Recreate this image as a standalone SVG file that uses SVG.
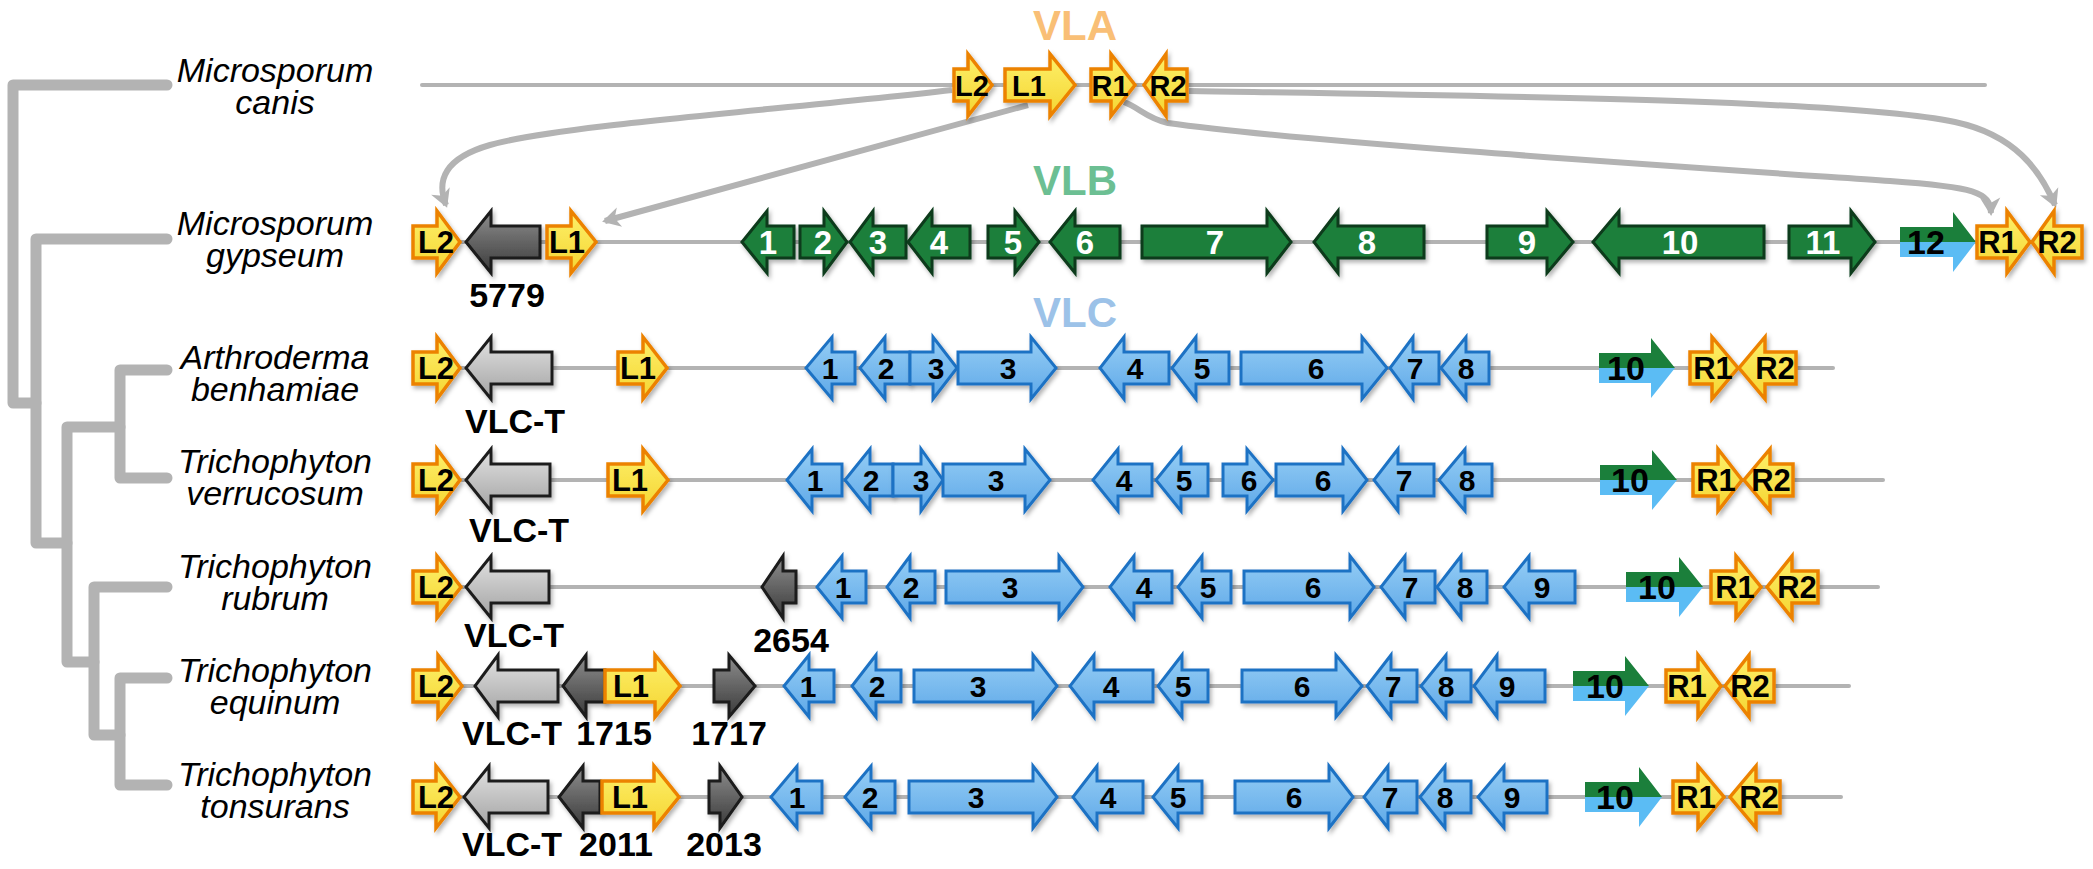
<svg xmlns="http://www.w3.org/2000/svg" width="2093" height="869" viewBox="0 0 2093 869">
<defs>
<style>
.bb{stroke:#b3b3b3;stroke-width:4;fill:none;stroke-linecap:round}
.tree{stroke:#b3b3b3;stroke-width:11;fill:none;stroke-linecap:round;stroke-linejoin:round}
.cn{stroke:#b3b3b3;stroke-width:6;fill:none;marker-end:url(#ah)}
.sp{font-family:"Liberation Sans",Arial,sans-serif;font-style:italic;font-size:34px;text-anchor:middle;fill:#000}
.y{fill:url(#gy);stroke:#ec8200;stroke-width:3.5;filter:url(#sh)}
.b{fill:url(#gb);stroke:#1f72c4;stroke-width:3;filter:url(#sh)}
.g{fill:#1b7f3b;stroke:#0c3a1a;stroke-width:3;filter:url(#sh)}
.lg{fill:url(#glg);stroke:#1e1e1e;stroke-width:3;filter:url(#sh)}
.dg{fill:url(#gdg);stroke:#1a1a1a;stroke-width:3;filter:url(#sh)}
.tg{fill:#1b7f3b}
.tb{fill:#5bbcf4}
.lb{font-family:"Liberation Sans",Arial,sans-serif;font-weight:bold;font-size:30px;text-anchor:middle;fill:#000}
.w{fill:#fff;font-size:33px}
.yl{font-size:31px}
.yc{font-size:29px}
.nm{font-size:34px}
.big{font-family:"Liberation Sans",Arial,sans-serif;font-weight:bold;font-size:42px;text-anchor:middle}
</style>
<linearGradient id="gy" x1="0" y1="0" x2="0" y2="1"><stop offset="0" stop-color="#fdf06a"/><stop offset="1" stop-color="#f5d532"/></linearGradient>
<linearGradient id="gb" x1="0" y1="0" x2="0" y2="1"><stop offset="0" stop-color="#96cef5"/><stop offset="1" stop-color="#5ea8e8"/></linearGradient>
<linearGradient id="glg" x1="0" y1="0" x2="0" y2="1"><stop offset="0" stop-color="#e2e2e2"/><stop offset="1" stop-color="#a3a3a3"/></linearGradient>
<linearGradient id="gdg" x1="0" y1="0" x2="0" y2="1"><stop offset="0" stop-color="#8e8e8e"/><stop offset="1" stop-color="#3a3a3a"/></linearGradient>
<filter id="sh" x="-20%" y="-20%" width="150%" height="160%"><feDropShadow dx="2" dy="3" stdDeviation="2" flood-color="#000" flood-opacity="0.3"/></filter>
<marker id="ah" markerUnits="userSpaceOnUse" markerWidth="26" markerHeight="26" viewBox="-20 -13 26 26" refX="0" refY="0" orient="auto"><path d="M3,0 L-15,-10 L-10,0 L-15,10 Z" fill="#b3b3b3"/></marker>
</defs>
<rect width="2093" height="869" fill="#fff"/>

<g id="tree">
<path class="tree" d="M167,85 H13 V403 H36"/>
<path class="tree" d="M167,239 H36 V543 H67"/>
<path class="tree" d="M120,427 H67 V662 H94"/>
<path class="tree" d="M167,370 H120 V478 H167"/>
<path class="tree" d="M167,587 H94 V735 H120"/>
<path class="tree" d="M167,678 H120 V785 H167"/>
</g>

<g id="species">
<g id="sp-canis"><text class="sp" x="275" y="82">Microsporum</text><text class="sp" x="275" y="114">canis</text></g>
<g id="sp-gypseum"><text class="sp" x="275" y="235">Microsporum</text><text class="sp" x="275" y="267">gypseum</text></g>
<g id="sp-benhamiae"><text class="sp" x="275" y="369">Arthroderma</text><text class="sp" x="275" y="401">benhamiae</text></g>
<g id="sp-verrucosum"><text class="sp" x="275" y="473">Trichophyton</text><text class="sp" x="275" y="505">verrucosum</text></g>
<g id="sp-rubrum"><text class="sp" x="275" y="578">Trichophyton</text><text class="sp" x="275" y="610">rubrum</text></g>
<g id="sp-equinum"><text class="sp" x="275" y="682">Trichophyton</text><text class="sp" x="275" y="714">equinum</text></g>
<g id="sp-tonsurans"><text class="sp" x="275" y="786">Trichophyton</text><text class="sp" x="275" y="818">tonsurans</text></g>
</g>

<g id="backbones">
<line class="bb" x1="422" y1="85" x2="1985" y2="85"/>
<line class="bb" x1="420" y1="242" x2="2060" y2="242"/>
<line class="bb" x1="420" y1="368" x2="1833" y2="368"/>
<line class="bb" x1="420" y1="480" x2="1883" y2="480"/>
<line class="bb" x1="420" y1="587" x2="1878" y2="587"/>
<line class="bb" x1="420" y1="686" x2="1849" y2="686"/>
<line class="bb" x1="420" y1="797" x2="1841" y2="797"/>
</g>

<g id="titles">
<text class="big" x="1075" y="40" fill="#f9bf76">VLA</text>
<text class="big" x="1075" y="195" fill="#6cbf93">VLB</text>
<text class="big" x="1075" y="327" fill="#9cc2e8">VLC</text>
</g>

<g id="connectors">
<path class="cn" d="M952,90 C780,110 560,125 490,145 C445,158 436,180 446,205"/>
<path class="cn" d="M1028,105 L605,221"/>
<path class="cn" d="M1124,102 C1140,108 1146,118 1168,123 C1300,142 1700,168 1890,181 C1975,187 1990,192 1991,213"/>
<path class="cn" d="M1189,91 C1500,96 1850,100 1955,122 C2015,135 2040,170 2055,205"/>
</g>

<g id="row-canis">
<g id="canis-L2"><path class="y" d="M954,69H968V54L992,85L968,116V101H954Z"/><text class="lb yc" x="972" y="96">L2</text></g>
<g id="canis-L1"><path class="y" d="M1005,69H1050V54L1075,85L1050,116V101H1005Z"/><text class="lb yc" x="1029" y="96">L1</text></g>
<g id="canis-R1"><path class="y" d="M1091,69H1111V54L1135,85L1111,116V101H1091Z"/><text class="lb yc" x="1110" y="96">R1</text></g>
<g id="canis-R2"><path class="y" d="M1187,69H1166V54L1144,85L1166,116V101H1187Z"/><text class="lb yc" x="1168" y="96">R2</text></g>
</g>

<g id="row-gypseum">
<g id="gyp-L2"><path class="y" d="M413,226H437V211L460,242L437,273V258H413Z"/><text class="lb yl" x="436" y="253">L2</text></g>
<g id="gyp-5779"><path class="dg" d="M540,226H491V211L466,242L491,273V258H540Z"/><text class="lb nm" x="507" y="307">5779</text></g>
<g id="gyp-L1"><path class="y" d="M547,226H571V211L596,242L571,273V258H547Z"/><text class="lb yl" x="567" y="253">L1</text></g>
<g id="gyp-1"><path class="g" d="M794,226H767V211L742,242L767,273V258H794Z"/><text class="lb w" x="768" y="254">1</text></g>
<g id="gyp-2"><path class="g" d="M800,226H824V211L847,242L824,273V258H800Z"/><text class="lb w" x="823" y="254">2</text></g>
<g id="gyp-3"><path class="g" d="M906,226H873V211L850,242L873,273V258H906Z"/><text class="lb w" x="878" y="254">3</text></g>
<g id="gyp-4"><path class="g" d="M970,226H932V211L908,242L932,273V258H970Z"/><text class="lb w" x="939" y="254">4</text></g>
<g id="gyp-5"><path class="g" d="M988,226H1015V211L1039,242L1015,273V258H988Z"/><text class="lb w" x="1013" y="254">5</text></g>
<g id="gyp-6"><path class="g" d="M1120,226H1075V211L1050,242L1075,273V258H1120Z"/><text class="lb w" x="1085" y="254">6</text></g>
<g id="gyp-7"><path class="g" d="M1142,226H1267V211L1291,242L1267,273V258H1142Z"/><text class="lb w" x="1215" y="254">7</text></g>
<g id="gyp-8"><path class="g" d="M1424,226H1338V211L1314,242L1338,273V258H1424Z"/><text class="lb w" x="1367" y="254">8</text></g>
<g id="gyp-9"><path class="g" d="M1487,226H1547V211L1573,242L1547,273V258H1487Z"/><text class="lb w" x="1527" y="254">9</text></g>
<g id="gyp-10"><path class="g" d="M1764,226H1619V211L1593,242L1619,273V258H1764Z"/><text class="lb w" x="1680" y="254">10</text></g>
<g id="gyp-11"><path class="g" d="M1789,226H1851V211L1875,242L1851,273V258H1789Z"/><text class="lb w" x="1823" y="254">11</text></g>
<g id="gyp-12"><path class="tg" d="M1900,227H1953V212L1976,242H1900Z"/><path class="tb" d="M1900,242H1976L1953,272V257H1900Z"/><text class="lb nm" x="1926" y="254">12</text></g>
<g id="gyp-R1"><path class="y" d="M1977,226H2007V211L2030,242L2007,273V258H1977Z"/><text class="lb yl" x="1998" y="253">R1</text></g>
<g id="gyp-R2"><path class="y" d="M2082,226H2054V211L2032,242L2054,273V258H2082Z"/><text class="lb yl" x="2057" y="253">R2</text></g>
</g>

<g id="row-benhamiae">
<g id="ben-L2"><path class="y" d="M413,352H437V337L460,368L437,399V384H413Z"/><text class="lb yl" x="436" y="379">L2</text></g>
<g id="ben-VLCT"><path class="lg" d="M552,352H491V337L466,368L491,399V384H552Z"/><text class="lb nm" x="515" y="433">VLC-T</text></g>
<g id="ben-L1"><path class="y" d="M618,352H643V337L667,368L643,399V384H618Z"/><text class="lb yl" x="638" y="379">L1</text></g>
<g id="ben-1"><path class="b" d="M855,352H832V337L806,368L832,399V384H855Z"/><text class="lb" x="830" y="379">1</text></g>
<g id="ben-2"><path class="b" d="M910,352H885V337L860,368L885,399V384H910Z"/><text class="lb" x="886" y="379">2</text></g>
<g id="ben-3a"><path class="b" d="M910,352H933V337L957,368L933,399V384H910Z"/><text class="lb" x="936" y="379">3</text></g>
<g id="ben-3b"><path class="b" d="M958,352H1031V337L1056,368L1031,399V384H958Z"/><text class="lb" x="1008" y="379">3</text></g>
<g id="ben-4"><path class="b" d="M1169,352H1124V337L1100,368L1124,399V384H1169Z"/><text class="lb" x="1135" y="379">4</text></g>
<g id="ben-5"><path class="b" d="M1229,352H1196V337L1172,368L1196,399V384H1229Z"/><text class="lb" x="1202" y="379">5</text></g>
<g id="ben-6"><path class="b" d="M1241,352H1362V337L1387,368L1362,399V384H1241Z"/><text class="lb" x="1316" y="379">6</text></g>
<g id="ben-7"><path class="b" d="M1439,352H1413V337L1390,368L1413,399V384H1439Z"/><text class="lb" x="1415" y="379">7</text></g>
<g id="ben-8"><path class="b" d="M1489,352H1466V337L1441,368L1466,399V384H1489Z"/><text class="lb" x="1466" y="379">8</text></g>
<g id="ben-10"><path class="tg" d="M1599,353H1651V338L1675,368H1599Z"/><path class="tb" d="M1599,368H1675L1651,398V383H1599Z"/><text class="lb nm" x="1626" y="380">10</text></g>
<g id="ben-R1"><path class="y" d="M1690,352H1712V337L1738,368L1712,399V384H1690Z"/><text class="lb yl" x="1713" y="379">R1</text></g>
<g id="ben-R2"><path class="y" d="M1796,352H1765V337L1739,368L1765,399V384H1796Z"/><text class="lb yl" x="1775" y="379">R2</text></g>
</g>

<g id="row-verrucosum">
<g id="ver-L2"><path class="y" d="M413,464H437V449L460,480L437,511V496H413Z"/><text class="lb yl" x="436" y="491">L2</text></g>
<g id="ver-VLCT"><path class="lg" d="M550,464H491V449L466,480L491,511V496H550Z"/><text class="lb nm" x="519" y="542">VLC-T</text></g>
<g id="ver-L1"><path class="y" d="M608,464H643V449L668,480L643,511V496H608Z"/><text class="lb yl" x="630" y="491">L1</text></g>
<g id="ver-1"><path class="b" d="M842,464H812V449L787,480L812,511V496H842Z"/><text class="lb" x="815" y="491">1</text></g>
<g id="ver-2"><path class="b" d="M893,464H870V449L845,480L870,511V496H893Z"/><text class="lb" x="871" y="491">2</text></g>
<g id="ver-3a"><path class="b" d="M893,464H921V449L943,480L921,511V496H893Z"/><text class="lb" x="921" y="491">3</text></g>
<g id="ver-3b"><path class="b" d="M943,464H1025V449L1050,480L1025,511V496H943Z"/><text class="lb" x="996" y="491">3</text></g>
<g id="ver-4"><path class="b" d="M1152,464H1118V449L1093,480L1118,511V496H1152Z"/><text class="lb" x="1124" y="491">4</text></g>
<g id="ver-5"><path class="b" d="M1208,464H1181V449L1156,480L1181,511V496H1208Z"/><text class="lb" x="1184" y="491">5</text></g>
<g id="ver-6a"><path class="b" d="M1223,464H1247V449L1273,480L1247,511V496H1223Z"/><text class="lb" x="1249" y="491">6</text></g>
<g id="ver-6b"><path class="b" d="M1276,464H1343V449L1367,480L1343,511V496H1276Z"/><text class="lb" x="1323" y="491">6</text></g>
<g id="ver-7"><path class="b" d="M1434,464H1398V449L1374,480L1398,511V496H1434Z"/><text class="lb" x="1404" y="491">7</text></g>
<g id="ver-8"><path class="b" d="M1492,464H1465V449L1439,480L1465,511V496H1492Z"/><text class="lb" x="1467" y="491">8</text></g>
<g id="ver-10"><path class="tg" d="M1600,465H1652V450L1677,480H1600Z"/><path class="tb" d="M1600,480H1677L1652,510V495H1600Z"/><text class="lb nm" x="1630" y="492">10</text></g>
<g id="ver-R1"><path class="y" d="M1693,464H1718V449L1742,480L1718,511V496H1693Z"/><text class="lb yl" x="1716" y="491">R1</text></g>
<g id="ver-R2"><path class="y" d="M1793,464H1770V449L1744,480L1770,511V496H1793Z"/><text class="lb yl" x="1771" y="491">R2</text></g>
</g>

<g id="row-rubrum">
<g id="rub-L2"><path class="y" d="M413,571H437V556L461,587L437,618V603H413Z"/><text class="lb yl" x="436" y="598">L2</text></g>
<g id="rub-VLCT"><path class="lg" d="M549,571H491V556L466,587L491,618V603H549Z"/><text class="lb nm" x="514" y="647">VLC-T</text></g>
<g id="rub-2654"><path class="dg" d="M796,571H783V556L762,587L783,618V603H796Z"/><text class="lb nm" x="791" y="652">2654</text></g>
<g id="rub-1"><path class="b" d="M866,571H842V556L817,587L842,618V603H866Z"/><text class="lb" x="843" y="598">1</text></g>
<g id="rub-2"><path class="b" d="M935,571H910V556L887,587L910,618V603H935Z"/><text class="lb" x="911" y="598">2</text></g>
<g id="rub-3"><path class="b" d="M946,571H1059V556L1083,587L1059,618V603H946Z"/><text class="lb" x="1010" y="598">3</text></g>
<g id="rub-4"><path class="b" d="M1172,571H1134V556L1110,587L1134,618V603H1172Z"/><text class="lb" x="1144" y="598">4</text></g>
<g id="rub-5"><path class="b" d="M1231,571H1202V556L1178,587L1202,618V603H1231Z"/><text class="lb" x="1208" y="598">5</text></g>
<g id="rub-6"><path class="b" d="M1244,571H1350V556L1374,587L1350,618V603H1244Z"/><text class="lb" x="1313" y="598">6</text></g>
<g id="rub-7"><path class="b" d="M1435,571H1405V556L1381,587L1405,618V603H1435Z"/><text class="lb" x="1410" y="598">7</text></g>
<g id="rub-8"><path class="b" d="M1487,571H1461V556L1437,587L1461,618V603H1487Z"/><text class="lb" x="1465" y="598">8</text></g>
<g id="rub-9"><path class="b" d="M1575,571H1529V556L1504,587L1529,618V603H1575Z"/><text class="lb" x="1542" y="598">9</text></g>
<g id="rub-10"><path class="tg" d="M1626,572H1679V557L1703,587H1626Z"/><path class="tb" d="M1626,587H1703L1679,617V602H1626Z"/><text class="lb nm" x="1657" y="599">10</text></g>
<g id="rub-R1"><path class="y" d="M1711,571H1736V556L1761,587L1736,618V603H1711Z"/><text class="lb yl" x="1735" y="598">R1</text></g>
<g id="rub-R2"><path class="y" d="M1818,571H1792V556L1767,587L1792,618V603H1818Z"/><text class="lb yl" x="1797" y="598">R2</text></g>
</g>

<g id="row-equinum">
<g id="equ-L2"><path class="y" d="M413,670H438V655L462,686L438,717V702H413Z"/><text class="lb yl" x="436" y="697">L2</text></g>
<g id="equ-VLCT"><path class="lg" d="M558,670H498V655L475,686L498,717V702H558Z"/><text class="lb nm" x="512" y="745">VLC-T</text></g>
<g id="equ-1715"><path class="dg" d="M605,670H586V655L563,686L586,717V702H605Z"/><text class="lb nm" x="614" y="745">1715</text></g>
<g id="equ-L1"><path class="y" d="M605,670H655V655L680,686L655,717V702H605Z"/><text class="lb yl" x="631" y="697">L1</text></g>
<g id="equ-1717"><path class="dg" d="M714,670H729V655L755,686L729,717V702H714Z"/><text class="lb nm" x="729" y="745">1717</text></g>
<g id="equ-1"><path class="b" d="M834,670H809V655L784,686L809,717V702H834Z"/><text class="lb" x="808" y="697">1</text></g>
<g id="equ-2"><path class="b" d="M901,670H876V655L852,686L876,717V702H901Z"/><text class="lb" x="877" y="697">2</text></g>
<g id="equ-3"><path class="b" d="M914,670H1033V655L1057,686L1033,717V702H914Z"/><text class="lb" x="978" y="697">3</text></g>
<g id="equ-4"><path class="b" d="M1153,670H1094V655L1070,686L1094,717V702H1153Z"/><text class="lb" x="1111" y="697">4</text></g>
<g id="equ-5"><path class="b" d="M1208,670H1182V655L1158,686L1182,717V702H1208Z"/><text class="lb" x="1183" y="697">5</text></g>
<g id="equ-6"><path class="b" d="M1242,670H1336V655L1362,686L1336,717V702H1242Z"/><text class="lb" x="1302" y="697">6</text></g>
<g id="equ-7"><path class="b" d="M1417,670H1391V655L1367,686L1391,717V702H1417Z"/><text class="lb" x="1393" y="697">7</text></g>
<g id="equ-8"><path class="b" d="M1471,670H1446V655L1421,686L1446,717V702H1471Z"/><text class="lb" x="1446" y="697">8</text></g>
<g id="equ-9"><path class="b" d="M1545,670H1497V655L1474,686L1497,717V702H1545Z"/><text class="lb" x="1507" y="697">9</text></g>
<g id="equ-10"><path class="tg" d="M1573,671H1625V656L1649,686H1573Z"/><path class="tb" d="M1573,686H1649L1625,716V701H1573Z"/><text class="lb nm" x="1605" y="698">10</text></g>
<g id="equ-R1"><path class="y" d="M1666,670H1698V655L1721,686L1698,717V702H1666Z"/><text class="lb yl" x="1687" y="697">R1</text></g>
<g id="equ-R2"><path class="y" d="M1774,670H1749V655L1725,686L1749,717V702H1774Z"/><text class="lb yl" x="1750" y="697">R2</text></g>
</g>

<g id="row-tonsurans">
<g id="ton-L2"><path class="y" d="M413,781H436V766L460,797L436,828V813H413Z"/><text class="lb yl" x="436" y="808">L2</text></g>
<g id="ton-VLCT"><path class="lg" d="M548,781H489V766L464,797L489,828V813H548Z"/><text class="lb nm" x="512" y="856">VLC-T</text></g>
<g id="ton-2011"><path class="dg" d="M600,781H583V766L559,797L583,828V813H600Z"/><text class="lb nm" x="616" y="856">2011</text></g>
<g id="ton-L1"><path class="y" d="M602,781H654V766L679,797L654,828V813H602Z"/><text class="lb yl" x="630" y="808">L1</text></g>
<g id="ton-2013"><path class="dg" d="M709,781H720V766L742,797L720,828V813H709Z"/><text class="lb nm" x="724" y="856">2013</text></g>
<g id="ton-1"><path class="b" d="M822,781H797V766L771,797L797,828V813H822Z"/><text class="lb" x="797" y="808">1</text></g>
<g id="ton-2"><path class="b" d="M895,781H871V766L845,797L871,828V813H895Z"/><text class="lb" x="870" y="808">2</text></g>
<g id="ton-3"><path class="b" d="M909,781H1033V766L1057,797L1033,828V813H909Z"/><text class="lb" x="976" y="808">3</text></g>
<g id="ton-4"><path class="b" d="M1143,781H1097V766L1073,797L1097,828V813H1143Z"/><text class="lb" x="1108" y="808">4</text></g>
<g id="ton-5"><path class="b" d="M1202,781H1178V766L1153,797L1178,828V813H1202Z"/><text class="lb" x="1178" y="808">5</text></g>
<g id="ton-6"><path class="b" d="M1235,781H1329V766L1353,797L1329,828V813H1235Z"/><text class="lb" x="1294" y="808">6</text></g>
<g id="ton-7"><path class="b" d="M1417,781H1388V766L1364,797L1388,828V813H1417Z"/><text class="lb" x="1390" y="808">7</text></g>
<g id="ton-8"><path class="b" d="M1471,781H1445V766L1420,797L1445,828V813H1471Z"/><text class="lb" x="1445" y="808">8</text></g>
<g id="ton-9"><path class="b" d="M1547,781H1504V766L1478,797L1504,828V813H1547Z"/><text class="lb" x="1512" y="808">9</text></g>
<g id="ton-10"><path class="tg" d="M1585,782H1639V767L1662,797H1585Z"/><path class="tb" d="M1585,797H1662L1639,827V812H1585Z"/><text class="lb nm" x="1615" y="809">10</text></g>
<g id="ton-R1"><path class="y" d="M1673,781H1698V766L1724,797L1698,828V813H1673Z"/><text class="lb yl" x="1696" y="808">R1</text></g>
<g id="ton-R2"><path class="y" d="M1780,781H1756V766L1730,797L1756,828V813H1780Z"/><text class="lb yl" x="1759" y="808">R2</text></g>
</g>
</svg>
